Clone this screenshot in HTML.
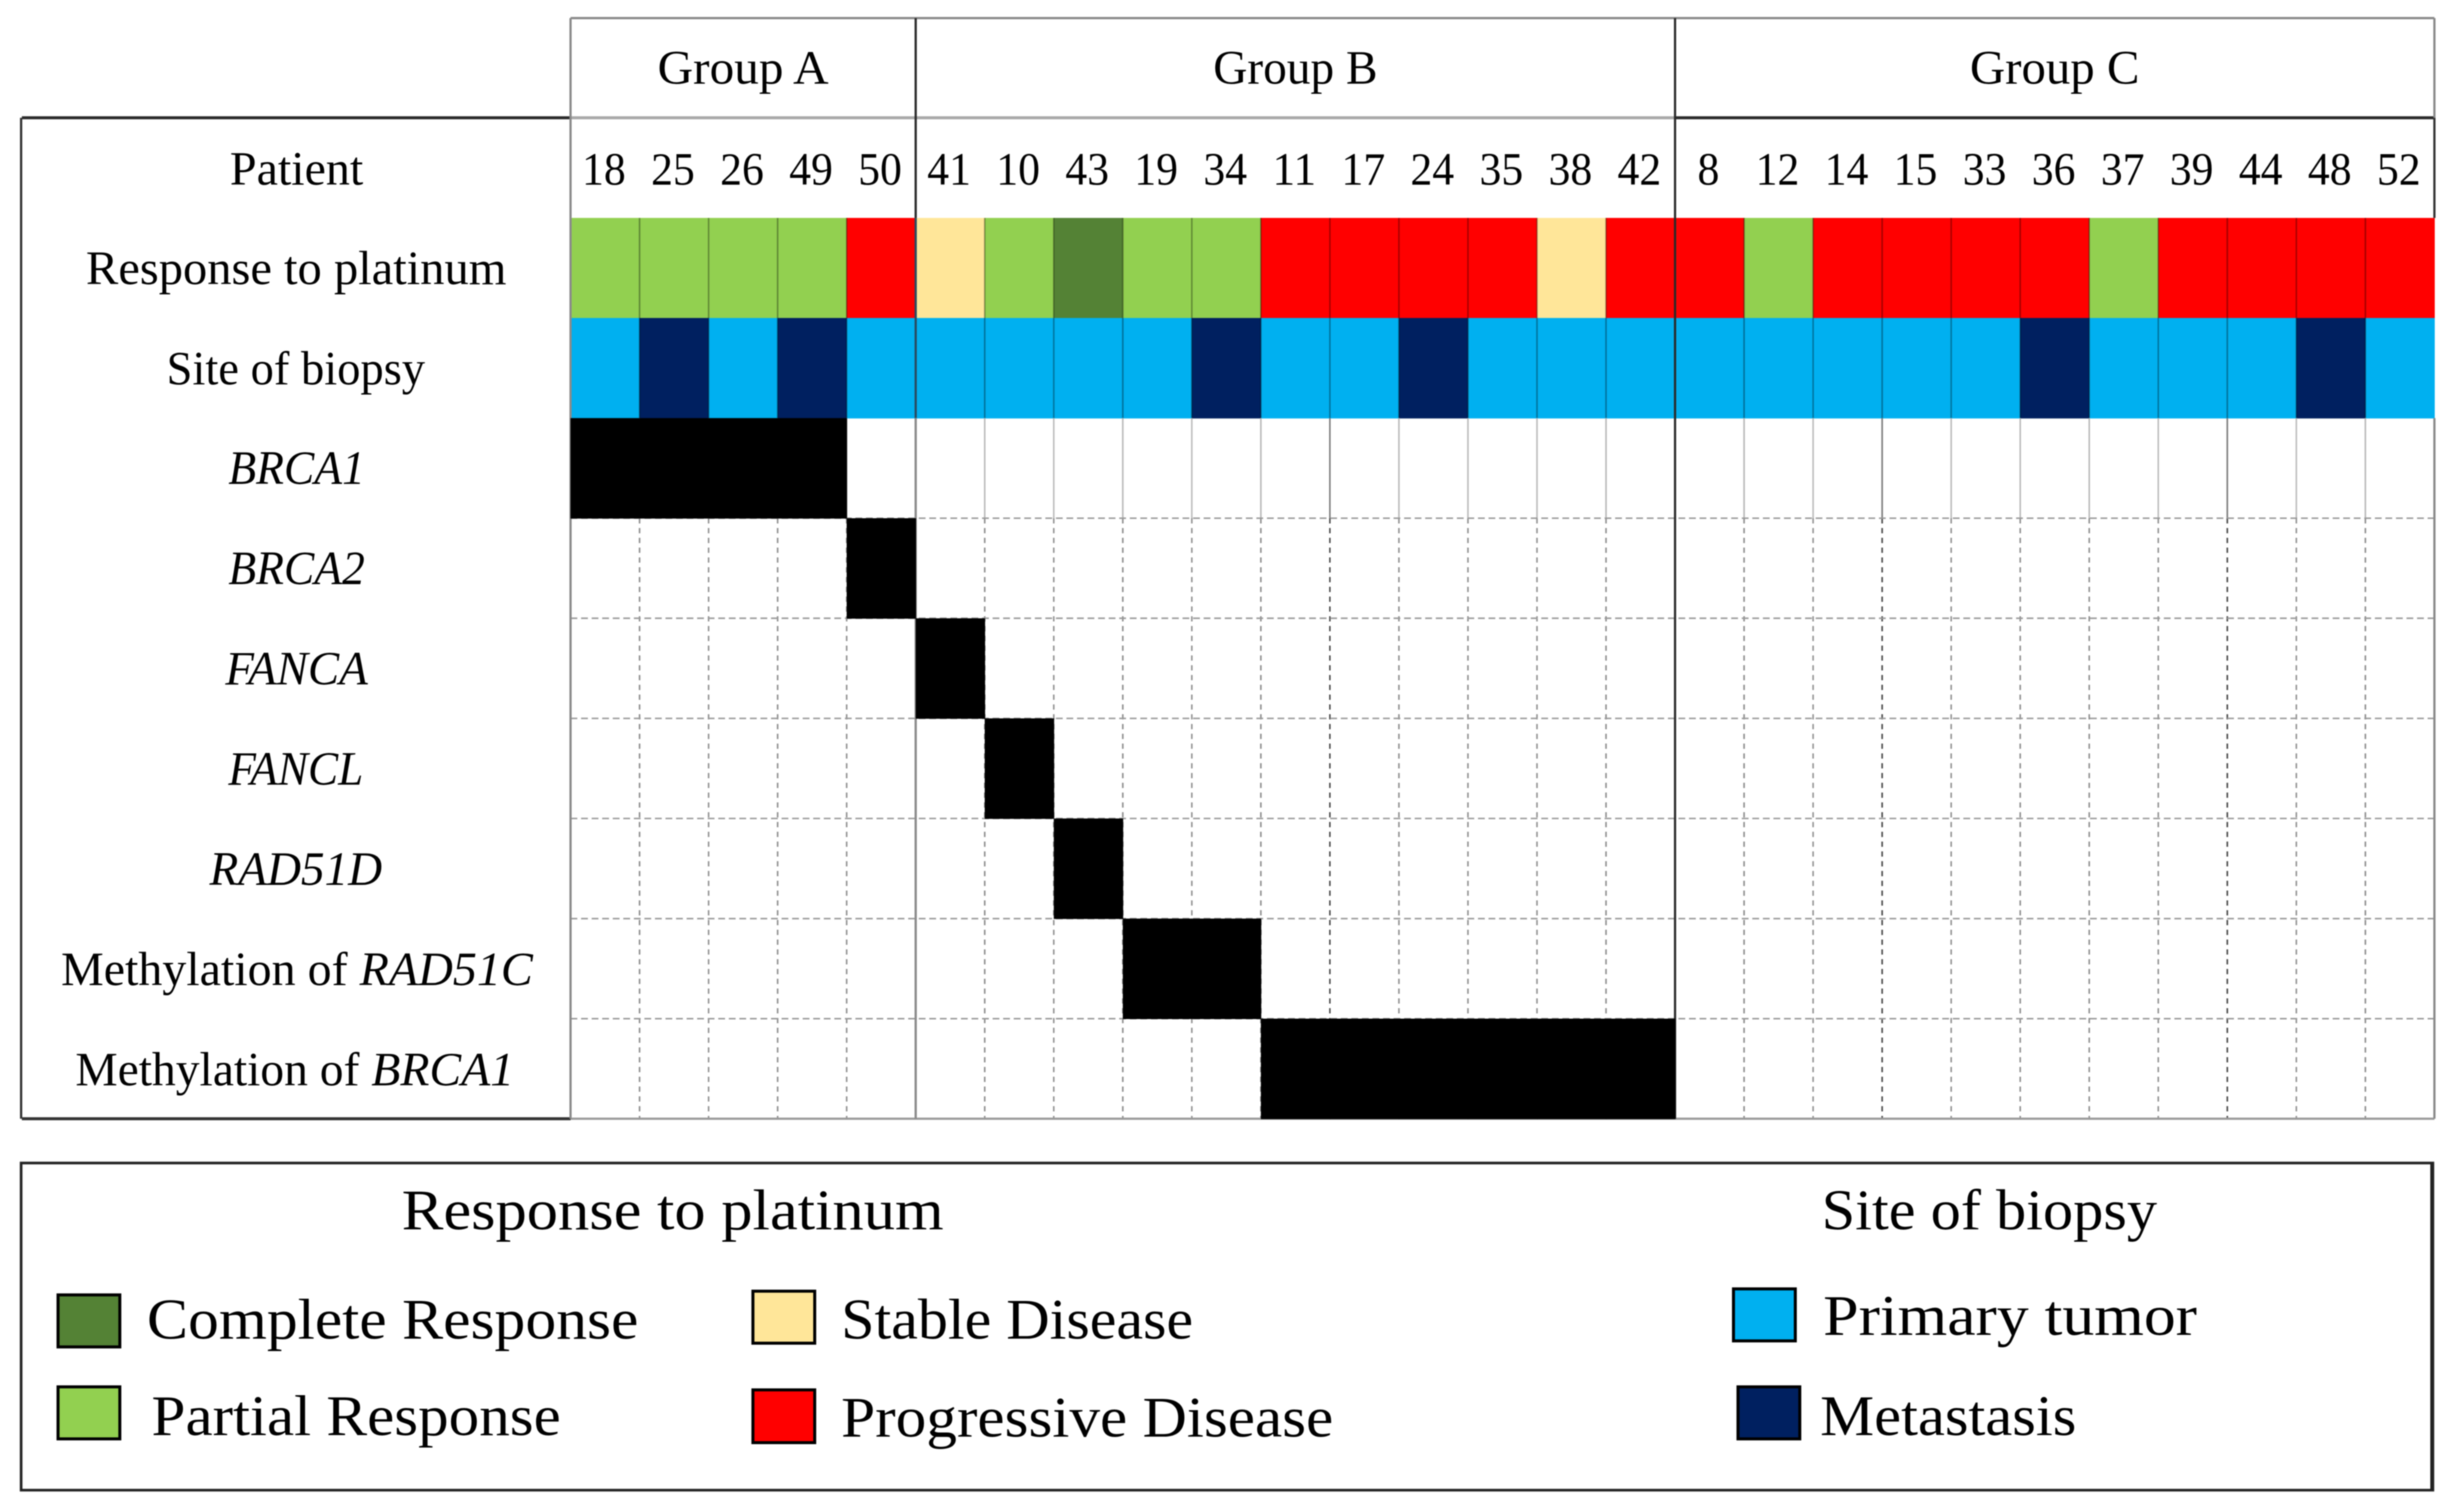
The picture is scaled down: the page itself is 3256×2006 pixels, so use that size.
<!DOCTYPE html>
<html lang="en">
<head>
<meta charset="utf-8">
<title>Patient response and genomic alterations by group</title>
<style>
html,body{margin:0;padding:0;background:#fff;width:3256px;height:2006px;overflow:hidden}
svg{display:block;filter:blur(0.9px)}
text{font-family:"Liberation Serif",serif;fill:#000}
.t{font-size:63px}
.n{font-size:61px}
.l{font-size:76px}
.i{font-style:italic}
</style>
</head>
<body>
<svg id="chart" xmlns="http://www.w3.org/2000/svg" width="3256" height="2006" viewBox="0 0 3256 2006">
  <rect x="0" y="0" width="3256" height="2006" fill="#ffffff"/>
  <g id="cells"></g>
  <g id="grid"></g>
  <g id="ticks"></g>
  <g id="groups"></g>

  <g>
    <text class="t" x="305" y="245" textLength="177" lengthAdjust="spacingAndGlyphs">Patient</text>
    <text class="t" x="114" y="377" textLength="558" lengthAdjust="spacingAndGlyphs">Response to platinum</text>
    <text class="t" x="221" y="510" textLength="343" lengthAdjust="spacingAndGlyphs">Site of biopsy</text>
    <text class="t i" x="303" y="642" textLength="181" lengthAdjust="spacingAndGlyphs">BRCA1</text>
    <text class="t i" x="303" y="775" textLength="181" lengthAdjust="spacingAndGlyphs">BRCA2</text>
    <text class="t i" x="299" y="908" textLength="189" lengthAdjust="spacingAndGlyphs">FANCA</text>
    <text class="t i" x="303" y="1041" textLength="179" lengthAdjust="spacingAndGlyphs">FANCL</text>
    <text class="t i" x="278" y="1174" textLength="229" lengthAdjust="spacingAndGlyphs">RAD51D</text>
    <text class="t" x="81" y="1307" textLength="626" lengthAdjust="spacingAndGlyphs">Methylation of <tspan class="i">RAD51C</tspan></text>
    <text class="t" x="100" y="1440" textLength="582" lengthAdjust="spacingAndGlyphs">Methylation of <tspan class="i">BRCA1</tspan></text>
  </g>

  <g>
    <path d="M28 1543H3228V1977H28Z" fill="none" stroke="#222" stroke-width="3.5"/>
    <line x1="3227" y1="1542" x2="3227" y2="1978" stroke="#222" stroke-width="5"/>
    <text class="l" x="533" y="1631" textLength="719" lengthAdjust="spacingAndGlyphs">Response to platinum</text>
    <text class="l" x="2417" y="1631" textLength="445" lengthAdjust="spacingAndGlyphs">Site of biopsy</text>

    <rect x="77" y="1718" width="82" height="69" fill="#548235" stroke="#000" stroke-width="4"/>
    <text class="l" x="195" y="1776" textLength="652" lengthAdjust="spacingAndGlyphs">Complete Response</text>
    <rect x="77" y="1840" width="82" height="69" fill="#92D050" stroke="#000" stroke-width="4"/>
    <text class="l" x="201" y="1904" textLength="543" lengthAdjust="spacingAndGlyphs">Partial Response</text>
    <rect x="999" y="1713" width="82" height="69" fill="#FFE699" stroke="#000" stroke-width="4"/>
    <text class="l" x="1116" y="1776" textLength="467" lengthAdjust="spacingAndGlyphs">Stable Disease</text>
    <rect x="999" y="1844" width="82" height="70" fill="#FF0000" stroke="#000" stroke-width="4"/>
    <text class="l" x="1116" y="1906" textLength="653" lengthAdjust="spacingAndGlyphs">Progressive Disease</text>
    <rect x="2300" y="1710" width="82" height="69" fill="#00B0F0" stroke="#000" stroke-width="4"/>
    <text class="l" x="2419" y="1771" textLength="496" lengthAdjust="spacingAndGlyphs">Primary tumor</text>
    <rect x="2306" y="1840" width="82" height="69" fill="#002060" stroke="#000" stroke-width="4"/>
    <text class="l" x="2415" y="1904" textLength="340" lengthAdjust="spacingAndGlyphs">Metastasis</text>
  </g>
</svg>

<script>
// ---- data ----
const patients = [18,25,26,49,50, 41,10,43,19,34,11,17,24,35,38,42, 8,12,14,15,33,36,37,39,44,48,52];
const groupNames = ["Group A","Group B","Group C"];
const groupSizes = [5,11,11];
const responses = ["PR","PR","PR","PR","PD", "SD","PR","CR","PR","PR","PD","PD","PD","PD","SD","PD", "PD","PR","PD","PD","PD","PD","PR","PD","PD","PD","PD"];
const sites = ["P","M","P","M","P", "P","P","P","P","M","P","P","M","P","P","P", "P","P","P","P","P","M","P","P","P","M","P"];
const brca1Mut   = [18,25,26,49];
const brca2Mut   = [50];
const fancaMut   = [41];
const fanclMut   = [10];
const rad51dMut  = [43];
const methRad51c = [19,34];
const methBrca1  = [11,17,24,35,38,42];
const alterationRows = [brca1Mut,brca2Mut,fancaMut,fanclMut,rad51dMut,methRad51c,methBrca1];
const alterationNames = ["brca1","brca2","fanca","fancl","rad51d","methylation-rad51c","methylation-brca1"];

// ---- styles ----
const responseColors = {CR:"#548235",PR:"#92D050",SD:"#FFE699",PD:"#FF0000"};
const siteColors = {P:"#00B0F0",M:"#002060"};
const heavyDashColumns = [11,19,24];

// ---- axis functions ----
const plotLeft = 757, plotRight = 3230, headerTop = 24, rowsTop = 156.3, rowHeight = 132.8, tableLeft = 29;
const colWidth = (plotRight - plotLeft) / patients.length;
const xAt = i => plotLeft + i * colWidth;
const yAt = r => rowsTop + r * rowHeight;

const NS = "http://www.w3.org/2000/svg";
function mk(parent, tag, attrs) {
  const el = document.createElementNS(NS, tag);
  for (const k in attrs) el.setAttribute(k, attrs[k]);
  parent.appendChild(el);
  return el;
}
const cells = document.getElementById("cells");
const grid = document.getElementById("grid");
const ticks = document.getElementById("ticks");
const groups = document.getElementById("groups");

// response row
responses.forEach((v, i) => {
  const el = mk(cells, "rect", {x: xAt(i), y: yAt(1), width: colWidth + 0.5, height: rowHeight + 0.5, fill: responseColors[v]});
  
  
});
// site row
sites.forEach((v, i) => {
  const el = mk(cells, "rect", {x: xAt(i), y: yAt(2), width: colWidth + 0.5, height: rowHeight + 0.5, fill: siteColors[v]});
  
  
});

// patient tick labels
patients.forEach((p, i) => {
  const el = mk(ticks, "text", {x: xAt(i) + colWidth / 2 - 1.5, y: 245, "text-anchor": "middle", "class": "n", textLength: String(p).length * 29, lengthAdjust: "spacingAndGlyphs"});
  el.textContent = p;
  
  
});

// grid: thin separators inside the coloured rows
for (let i = 1; i < patients.length; i++) {
  const el = mk(grid, "line", {x1: xAt(i), x2: xAt(i), y1: yAt(1), y2: yAt(3), stroke: "rgba(0,0,0,0.35)", "stroke-width": 2});
  
  
}
// grid: solid light verticals through the first alteration row, dashed afterward
for (let i = 1; i < patients.length; i++) {
  const heavy = heavyDashColumns.includes(i);
  const a = mk(grid, "line", {x1: xAt(i), x2: xAt(i), y1: yAt(3), y2: yAt(4), stroke: heavy ? "#777777" : "#b8b8b8", "stroke-width": 2});
  
  
  const b = mk(grid, "line", {x1: xAt(i), x2: xAt(i), y1: yAt(4), y2: yAt(10), stroke: heavy ? "#444444" : "#8c8c8c", "stroke-width": 2, "stroke-dasharray": "7 6"});
  
  
}
// grid: dashed horizontals
for (let r = 4; r < 10; r++) {
  const el = mk(grid, "line", {x1: plotLeft, x2: plotRight, y1: yAt(r), y2: yAt(r), stroke: "#999999", "stroke-width": 2, "stroke-dasharray": "9 5"});
  
  
}

// alteration cells
alterationRows.forEach((list, r) => {
  patients.forEach((p, i) => {
    if (!list.includes(p)) return;
    const el = mk(cells.parentNode, "rect", {x: xAt(i), y: yAt(r + 3), width: colWidth + 0.5, height: rowHeight + 0.5, fill: "#000"});
    
    
  });
});

// group headers and frames
const groupLabelWidths = [227,218,225];
let start = 0;
groupNames.forEach((name, g) => {
  const cx = xAt(start + groupSizes[g] / 2);
  const el = mk(groups, "text", {x: cx, y: 111, "text-anchor": "middle", "class": "t", textLength: groupLabelWidths[g], lengthAdjust: "spacingAndGlyphs"});
  el.textContent = name;
  
  
  start += groupSizes[g];
});

// frame lines
function frame(x1, y1, x2, y2, stroke, w, name) {
  const el = mk(groups, "line", {x1: x1, y1: y1, x2: x2, y2: y2, stroke: stroke, "stroke-width": w});
  
  
}
const abX = xAt(groupSizes[0]);
const bcX = xAt(groupSizes[0] + groupSizes[1]);
frame(plotLeft, headerTop, plotRight, headerTop, "#8a8a8a", 3, "header-top-border");
frame(tableLeft, yAt(0), plotLeft, yAt(0), "#2a2a2a", 4, "table-top-border-left");
frame(plotLeft, yAt(0), bcX, yAt(0), "#a8a8a8", 4, "table-top-border-middle");
frame(bcX, yAt(0), plotRight, yAt(0), "#2a2a2a", 4, "table-top-border-right");
frame(tableLeft - 1, yAt(0), tableLeft - 1, yAt(10), "#333", 3, "table-left-border");
frame(tableLeft, yAt(10), plotLeft, yAt(10), "#333", 4, "table-bottom-border-left");
frame(plotLeft, yAt(10), plotRight, yAt(10), "#999", 3, "table-bottom-border-right");
frame(plotLeft, headerTop, plotLeft, yAt(10), "#8a8a8a", 3, "row-label-divider");
frame(abX, headerTop, abX, yAt(1), "#2a2a2a", 3, "group-a-b-divider-top");
frame(abX, yAt(1), abX, yAt(3), "#2a4a60", 3, "group-a-b-divider-color");
frame(abX, yAt(3), abX, yAt(10), "#8a8a8a", 3, "group-a-b-divider-bottom");
frame(bcX, headerTop, bcX, yAt(10), "#2a2a2a", 3, "group-b-c-divider");
frame(plotRight, headerTop, plotRight, yAt(0), "#8a8a8a", 3, "right-border-header");
frame(plotRight, yAt(0), plotRight, yAt(1), "#333", 3, "right-border-patient");
frame(plotRight, yAt(3), plotRight, yAt(10), "#8a8a8a", 3, "right-border-lower");
</script>
</body>
</html>
